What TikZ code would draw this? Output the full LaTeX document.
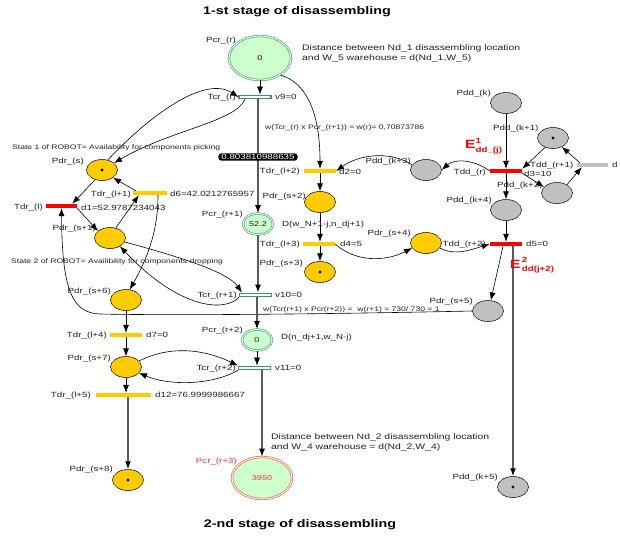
\documentclass[tikz,border=0pt]{standalone}
\usepackage{fontspec}
\setmainfont{Liberation Sans}[FakeStretch=1.3]
\usetikzlibrary{shapes.geometric,arrows.meta}
\definecolor{ycol}{HTML}{FFCC00}
\definecolor{gcol}{HTML}{C0C0C0}
\definecolor{cfill}{HTML}{CCFFCC}
\definecolor{cdraw}{HTML}{339966}
\definecolor{rcol}{HTML}{FF0000}
\definecolor{lcol}{HTML}{5A5A5A}
\definecolor{tcol}{HTML}{222222}
\newcommand\myfsA{\fontsize{7.5}{8.5}\selectfont}
\newcommand\myfsB{\fontsize{6.6}{7.5}\selectfont}
\newcommand\myfsC{\fontsize{7}{8}\selectfont}
\newcommand\myfsD{\fontsize{8}{9.5}\selectfont}
\tikzset{
 pl/.style={ellipse, draw=black, line width=0.5pt, minimum width=31pt, minimum height=21pt, inner sep=0pt},
 ypl/.style={pl, fill=ycol},
 gpl/.style={pl, fill=gcol},
 cpl/.style={ellipse, draw=cdraw, double=cfill!40!white, double distance=1.1pt, line width=0.55pt, fill=cfill, inner sep=0pt, font=\myfsC, text=tcol},
 rpl/.style={cpl, draw=rcol!75, text=rcol!80},
 bar/.style={rectangle, minimum width=32pt, minimum height=4pt, inner sep=0pt, draw=none},
 ybar/.style={bar, fill=ycol},
 rbar/.style={bar, fill=rcol},
 sbar/.style={bar, fill=gcol},
 gbar/.style={bar, draw=cdraw, line width=1.2pt, fill=white, minimum height=3.6pt},
 lbl/.style={font=\myfsA, text=tcol, inner sep=0pt, text height=5.5pt, text depth=1.5pt},
 ml/.style={font=\myfsD, text=tcol, inner sep=0pt, align=left},
 ttl/.style={font=\fontsize{11}{13}\selectfont\bfseries, text=black, inner sep=0pt},
 elbl/.style={font=\bfseries, text=rcol, inner sep=0pt, anchor=west},
 arc/.style={draw=black, line width=0.6pt, -{Latex[length=8pt,width=6pt]}},
 garc/.style={draw=lcol, line width=1.3pt, -{Latex[length=8pt,width=6pt,black]}},
}
\begin{document}
\begin{tikzpicture}[x=1pt,y=-1pt]
\fill[white] (0,0) rectangle (620,541);
\useasboundingbox (0,0) rectangle (620,541);

% places
\node[cpl, minimum width=62pt, minimum height=44pt] (pr) at (260,58) {0};
\node[cpl, minimum width=30pt, minimum height=21pt] (pr1) at (258,224) {52.2};
\node[cpl, minimum width=30pt, minimum height=21pt] (pr2) at (257,340) {0};
\node[rpl, minimum width=60pt, minimum height=42pt] (pr3) at (262,478) {3950};
\node[ypl] (ps) at (102,170) {};
\node[ypl] (ps1) at (110,238) {};
\node[ypl] (ps2) at (320,202) {};
\node[ypl] (ps3) at (320,272) {};
\node[ypl] (ps4) at (426,243) {};
\node[gpl] (ps5) at (488,311) {};
\node[ypl] (ps6) at (126,300) {};
\node[ypl] (ps7) at (126,367) {};
\node[ypl] (ps8) at (128,480) {};
\node[gpl] (pk) at (506,103) {};
\node[gpl] (pk1) at (553,138) {};
\node[gpl] (pk2) at (557,193) {};
\node[gpl] (pk3) at (426,170) {};
\node[gpl] (pk4) at (506,210) {};
\node[gpl] (pk5) at (513,487) {};
\foreach \p in {ps,ps3,ps8,pk1,pk5} \fill (\p.center) circle[radius=1.7pt];

% transitions
\node[gbar] (tcr) at (255,97) {};
\node[gbar] (tcr1) at (255.5,295) {};
\node[gbar] (tcr2) at (254.5,368) {};
\node[rbar, minimum width=31pt] (tdrl) at (61.5,206) {};
\node[ybar, minimum width=34pt] (tdrl1) at (150,193) {};
\node[ybar] (tdrl2) at (320,171) {};
\node[ybar] (tdrl3) at (319,244) {};
\node[ybar] (tdrl4) at (126,335) {};
\node[ybar, minimum width=55pt] (tdrl5) at (123.5,395) {};
\node[rbar] (tddr) at (506,171) {};
\node[sbar, minimum width=31pt] (tddr1) at (592.5,165) {};
\node[rbar] (tddr2) at (506,244) {};

% connectors
\draw[arc] (pr.-40) .. controls (305,82) and (320,110) .. (tdrl2.north);
\draw[arc] (pk3.160) .. controls (390,150) and (358,155) .. (tdrl2.east);
\draw[arc] (tddr.west) .. controls (475,160) and (455,158) .. (pk3.east);
\draw[arc] (pk1.230) -- (tddr.north east);
\draw[arc] (tddr.south east) -- (pk2.155);
\draw[arc] (pk2.40) -- ([xshift=5pt]tddr1.south west);
\draw[arc] ([xshift=3pt]tddr1.north west) -- (pk1.-45);
\draw[arc] (pk.south) -- (tddr.north);
\draw[arc] (tddr.south) -- (pk4.north);
\draw[arc] (pk4.south) -- (tddr2.north);
\draw[arc] ([xshift=-3pt]tddr2.south) -- (ps5.75);
\draw[garc] (tddr2.south -| pk5.north) -- (pk5.north);
\draw[arc] (ps5.west) .. controls (380,313) and (200,316) .. (100,314) .. controls (72,313) and (62,290) .. (tdrl.south);
\draw[arc] ([xshift=-10pt]tcr.south) .. controls (235,122) and (170,130) .. (ps.30);
\draw[arc] (ps.60) .. controls (150,115) and (205,75) .. (tcr.west);
\draw[arc] (ps.235) -- ([xshift=-5pt]tdrl.north east);
\draw[arc] ([xshift=3pt]tdrl1.north west) -- (ps.-35);
\draw[arc] (tdrl.south east) -- (ps1.150);
\draw[arc] (ps1.60) -- ([xshift=6pt]tdrl1.south west);
\draw[arc] ([xshift=8pt]tdrl1.south) .. controls (158,235) and (145,262) .. (ps6.70);
\draw[arc] (ps1.-15) .. controls (180,257) and (228,272) .. ([xshift=3pt]tcr1.north west);
\draw[arc] (tcr1.south west) .. controls (225,312) and (180,310) .. (ps1.-40);
\draw[arc] (ps6.south) -- (ps6.south |- tdrl4.north);
\draw[arc] (tdrl4.south) -- (ps7.north);
\draw[arc] (ps7.25) .. controls (175,343) and (210,352) .. (tcr2.north west);
\draw[arc] (tcr2.south west) .. controls (212,385) and (170,386) .. (ps7.-25);
\draw[arc] (ps7.south) -- (ps7.south |- tdrl5.north);
\draw[garc] (tdrl5.south -| ps8.north) -- (ps8.north);
\draw[arc] (tdrl2.south) -- (ps2.north);
\draw[arc] (ps2.south) -- (ps2.south |- tdrl3.north);
\draw[arc] (tdrl3.south -| ps3.north) -- (ps3.north);
\draw[arc] (tdrl3.east) .. controls (355,262) and (385,262) .. (ps4.200);
\draw[arc] (ps4.-20) .. controls (455,256) and (470,250) .. (tddr2.west);
\draw[arc] (pr.south) -- (pr.south |- tcr.north);
\draw[garc] (tcr.south -| pr1.north) -- (pr1.north);
\draw[garc] (pr1.south) -- (pr1.south |- tcr1.north);
\draw[garc] (tcr1.south -| pr2.north) -- (pr2.north);
\draw[arc] (pr2.south) -- (pr2.south |- tcr2.north);
\draw[garc] (tcr2.south -| pr3.north) -- (pr3.north);

\node[fill=black, text=white, rounded corners=3pt, inner xsep=3pt, inner ysep=1pt, font=\myfsA] (bx) at (258,157) {0.803810988635};

% titles
\node[ttl] (t1) at (297,12) {1-st stage of disassembling};
\node[ttl] (t2) at (300,525) {2-nd stage of disassembling};

% labels
\node[lbl, anchor=east] (lpr) at (236,40) {Pcr\_(r)};
\node[ml, anchor=west] (ldA) at (302,53.5) {Distance between Nd\_1 disassembling location\\and W\_5 warehouse = d(Nd\_1,W\_5)};
\node[lbl, anchor=east] (ltcr) at (236,97) {Tcr\_(r)};
\node[lbl, anchor=west] (lv9) at (275,97) {v9=0};
\node[lbl, anchor=west, font=\myfsB] (lw1) at (265,127) {w(Tcr\_(r) x Pcr\_(r+1)) = w(r)= 0,70873786};
\node[lbl, anchor=west, font=\myfsB] (lst1) at (12,147) {State 1 of ROBOT= Availability for components picking};
\node[lbl, anchor=east] (lps) at (84,161) {Pdr\_(s)};
\node[lbl, anchor=east] (ltdrl1) at (131,194) {Tdr\_(l+1)};
\node[lbl, anchor=west] (ld6) at (170,194) {d6=42.0212765957};
\node[lbl, anchor=east] (ltdrl) at (43,207) {Tdr\_(l)};
\node[lbl, anchor=west] (ld1v) at (81,208) {d1=52.9787234043};
\node[lbl, anchor=east] (lps1) at (96,228) {Pdr\_(s+1)};
\node[lbl, anchor=west, font=\myfsB] (lst2) at (11,261) {State 2 of ROBOT= Availibility for components dropping};
\node[lbl, anchor=east] (lps6) at (111,291) {Pdr\_(s+6)};
\node[lbl, anchor=east] (ltdrl4) at (107,335) {Tdr\_(l+4)};
\node[lbl, anchor=west] (ld7) at (146,335) {d7=0};
\node[lbl, anchor=east] (lps7) at (111,358) {Pdr\_(s+7)};
\node[lbl, anchor=east] (ltdrl5) at (91,395) {Tdr\_(l+5)};
\node[lbl, anchor=west] (ld12) at (155,395) {d12=76.9999986667};
\node[lbl, anchor=east] (lps8) at (113,469) {Pdr\_(s+8)};
\node[lbl, anchor=east] (lpr1) at (243,214) {Pcr\_(r+1)};
\node[lbl, anchor=east] (ltcr1) at (237,295) {Tcr\_(r+1)};
\node[lbl, anchor=west] (lv10) at (275,295) {v10=0};
\node[lbl, anchor=west, font=\myfsB] (lw2) at (263,309) {w(Tcr(r+1) x Pcr(r+2)) =\ \ w(r+1) = 730/ 730 = 1};
\node[lbl, anchor=east] (lpr2) at (243,330) {Pcr\_(r+2)};
\node[lbl, anchor=west] (ldn) at (281,337) {D(n\_dj+1,w\_N-j)};
\node[lbl, anchor=east] (ltcr2) at (236,368) {Tcr\_(r+2)};
\node[lbl, anchor=west] (lv11) at (275,368) {v11=0};
\node[lbl, anchor=east, text=rcol!80] (lpr3) at (237,461) {Pcr\_(r+3)};
\node[ml, anchor=west] (ldB) at (271,442.5) {Distance between Nd\_2 disassembling location\\and W\_4 warehouse = d(Nd\_2,W\_4)};
\node[lbl, anchor=east] (ltdrl2) at (300,171) {Tdr\_(l+2)};
\node[lbl, anchor=west] (ld2v) at (339,172) {d2=0};
\node[lbl, anchor=east] (lps2) at (306,196) {Pdr\_(s+2)};
\node[lbl, anchor=west] (ldw) at (282,224) {D(w\_N+1-j,n\_dj+1)};
\node[lbl, anchor=east] (ltdrl3) at (300,244) {Tdr\_(l+3)};
\node[lbl, anchor=west] (ld4) at (340,244) {d4=5};
\node[lbl, anchor=east] (lps3) at (303,263) {Pdr\_(s+3)};
\node[lbl, anchor=east] (lps4) at (411,233) {Pdr\_(s+4)};
\node[lbl, anchor=east] (ltddr2) at (486,244) {Tdd\_(r+2)};
\node[lbl, anchor=west] (ld5) at (526,244) {d5=0};
\node[lbl, anchor=east] (lps5) at (473,301) {Pdr\_(s+5)};
\node[lbl, anchor=east] (lpk5) at (498,477) {Pdd\_(k+5)};
\node[lbl, anchor=east] (lpk) at (491,93) {Pdd\_(k)};
\node[lbl, anchor=west] (lpk1) at (493,128) {Pdd\_(k+1)};
\node[lbl, anchor=east] (ltddr) at (486,172) {Tdd\_(r)};
\node[lbl, anchor=west] (ld3) at (524,174) {d3=10};
\node[lbl, anchor=west] (ltddr1) at (530,165) {Tdd\_(r+1)};
\node[lbl, anchor=west] (lpk2) at (497,185) {Pdd\_(k+2)};
\node[lbl, anchor=east] (lpk3) at (411,161) {Pdd\_(k+3)};
\node[lbl, anchor=east] (lpk4) at (492,200) {Pdd\_(k+4)};
\node[lbl, anchor=west] (ldcut) at (612,165) {d};
\node[elbl] (e1) at (465,146) {\fontsize{12}{12}\selectfont E\fontsize{7.5}{8}\selectfont\rlap{\raisebox{5.5pt}{1}}\raisebox{-3.5pt}{dd\_(j)}};
\node[elbl] (e2) at (510,265) {\fontsize{12}{12}\selectfont E\fontsize{7.5}{8}\selectfont\,\rlap{\raisebox{5.5pt}{2}}\raisebox{-3pt}{dd(j+2)}};
\end{tikzpicture}
\end{document}
